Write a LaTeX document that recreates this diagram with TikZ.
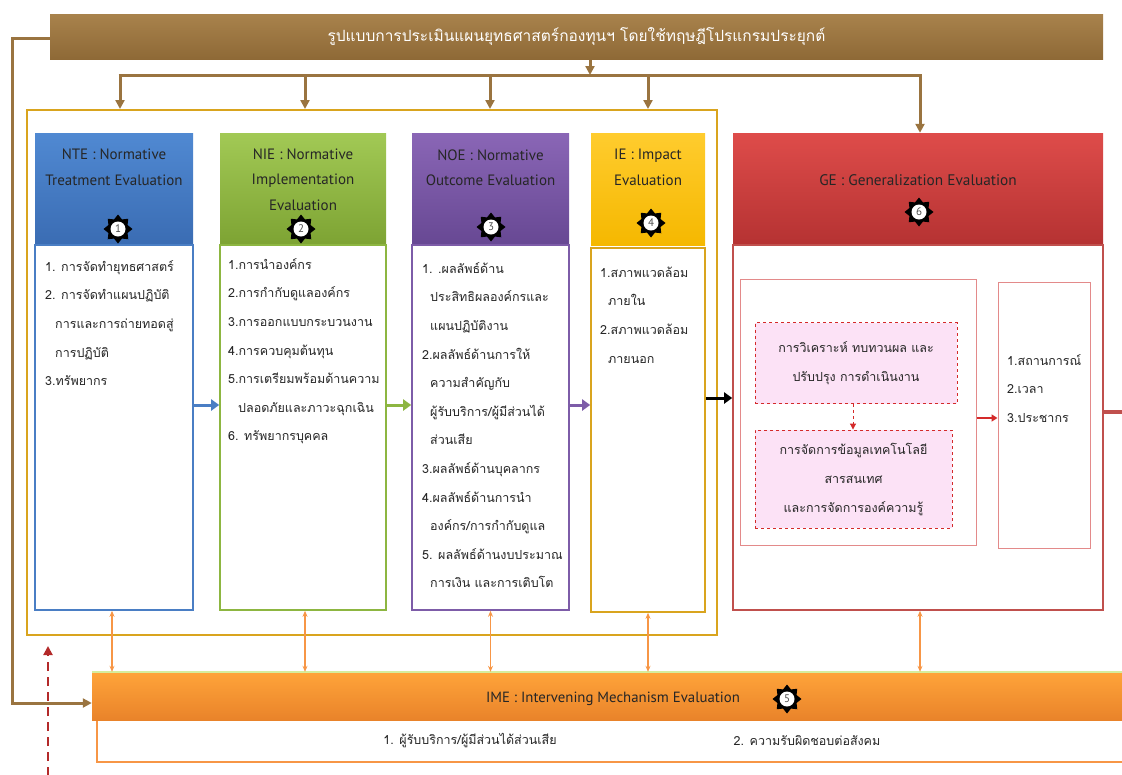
\documentclass[tikz,border=0pt]{standalone}
\usepackage{fontspec}
\setmainfont{PT Sans}
\newfontfamily\thai[Script=Thai]{Loma}
\usetikzlibrary{shapes.geometric,arrows.meta}
\definecolor{brn}{HTML}{9A7440}
\definecolor{brnT}{HTML}{A8824C}
\definecolor{brnB}{HTML}{8E6936}
\definecolor{gold}{HTML}{D9A41E}
\definecolor{nteT}{HTML}{5089D2}
\definecolor{nteB}{HTML}{3A6CB3}
\definecolor{nteD}{HTML}{4A7EC4}
\definecolor{nieT}{HTML}{A2C955}
\definecolor{nieB}{HTML}{7DA333}
\definecolor{nieD}{HTML}{8DB641}
\definecolor{noeT}{HTML}{8A66B6}
\definecolor{noeB}{HTML}{674893}
\definecolor{noeD}{HTML}{7D5CA8}
\definecolor{ieT}{HTML}{FFCC2E}
\definecolor{ieB}{HTML}{F5B800}
\definecolor{geT}{HTML}{DE4C4A}
\definecolor{geB}{HTML}{B53232}
\definecolor{geD}{HTML}{C0504D}
\definecolor{geL}{HTML}{E38A8A}
\definecolor{pinkF}{HTML}{FCE2F6}
\definecolor{pinkD}{HTML}{D42A2A}
\definecolor{orng}{HTML}{F79646}
\definecolor{imeT}{HTML}{FFA43A}
\definecolor{imeB}{HTML}{E9832A}
\definecolor{txt}{HTML}{262626}
\definecolor{rdash}{HTML}{B32A2A}
\tikzset{
  hdrbox/.style={inner sep=0pt, draw=none},
  bodybox/.style={inner sep=0pt, fill=white, line width=1.6pt},
  hdrtext/.style={font=\fontsize{15}{25.5}\selectfont, text=txt, align=center, inner sep=0pt},
  listtext/.style={font=\thai\fontsize{12.5}{28.6}\selectfont, text=txt, align=left, anchor=north west, inner sep=0pt},
  badgestar/.style={star, star points=8, star point ratio=1.4, fill=black, draw=none, minimum size=29pt, inner sep=0pt},
  badgenum/.style={circle, fill=white, draw=none, minimum size=15pt, inner sep=0pt, font=\fontsize{11}{11}\selectfont, text=black!70},
  brnline/.style={draw=brn, line width=3pt},
  brnarrow/.style={draw=brn, line width=3pt, -{Triangle[length=9pt,width=9pt]}},
  orarrow/.style={draw=orng, line width=1.3pt, {Stealth[length=6pt,width=5pt]}-{Stealth[length=6pt,width=5pt]}},
  colarrow/.style={line width=3pt, -{Triangle[length=8pt,width=11pt]}},
}
\begin{document}
\begin{tikzpicture}[x=1pt,y=-1pt]
\useasboundingbox (0,0) rectangle (1122,774);

% outer golden frame
\node[inner sep=0pt, draw=gold, line width=2pt, minimum width=690pt, minimum height=525pt] (frame) at (372,372.5) {};

% title bar
\node[hdrbox, top color=brnT, bottom color=brnB, minimum width=1053pt, minimum height=45pt,
      font=\thai\fontsize{15.5}{17}\selectfont, text=white] (title) at (576.5,37)
  {รูปแบบการประเมินแผนยุทธศาสตร์กองทุนฯ โดยใช้ทฤษฎีโปรแกรมประยุกต์};

% column headers
\node[hdrbox, top color=nteT, bottom color=nteB, minimum width=158pt, minimum height=112pt] (nteh) at (114,189) {};
\node[hdrbox, top color=nieT, bottom color=nieB, minimum width=166pt, minimum height=112pt] (nieh) at (303,189) {};
\node[hdrbox, top color=noeT, bottom color=noeB, minimum width=157pt, minimum height=112pt] (noeh) at (490.5,189) {};
\node[hdrbox, top color=ieT, bottom color=ieB, minimum width=114pt, minimum height=112pt] (ieh) at (648,189) {};
\node[hdrbox, top color=geT, bottom color=geB, minimum width=370pt, minimum height=112pt] (geh) at (918,189) {};

\node[hdrtext] (ntet) at (114,167.5) {NTE : Normative\\Treatment Evaluation};
\node[hdrtext] (niet) at (303,179.5) {NIE : Normative\\Implementation\\Evaluation};
\node[hdrtext] (noet) at (490.5,167.5) {NOE : Normative\\Outcome Evaluation};
\node[hdrtext] (iet) at (648,167.5) {IE : Impact\\Evaluation};
\node[hdrtext, font=\fontsize{15.3}{17}\selectfont] (get) at (918,180) {GE : Generalization Evaluation};

% column bodies
\node[bodybox, draw=nteD, minimum width=158pt, minimum height=365pt] (nteb) at (114,427.5) {};
\node[bodybox, draw=nieD, minimum width=166pt, minimum height=365pt] (nieb) at (303,427.5) {};
\node[bodybox, draw=noeD, minimum width=157pt, minimum height=365pt] (noeb) at (490.5,427.5) {};
\node[bodybox, draw=gold, minimum width=114pt, minimum height=364pt] (ieb) at (648,430) {};
\node[bodybox, draw=geD, minimum width=370pt, minimum height=365pt] (geb) at (918,427.5) {};

% column texts
\node[listtext] (ntel) at (45,251) {\strut 1. การจัดทำยุทธศาสตร์\\2. การจัดทำแผนปฏิบัติ\\\hspace*{10pt}การและการถ่ายทอดสู่\\\hspace*{10pt}การปฏิบัติ\\3.ทรัพยากร};
\node[listtext] (niel) at (228,249) {\strut 1.การนำองค์กร\\2.การกำกับดูแลองค์กร\\3.การออกแบบกระบวนงาน\\4.การควบคุมต้นทุน\\5.การเตรียมพร้อมด้านความ\\\hspace*{10pt}ปลอดภัยและภาวะฉุกเฉิน\\6. ทรัพยากรบุคคล};
\node[listtext] (noel) at (422,253) {\strut 1. .ผลลัพธ์ด้าน\\\hspace*{8pt}ประสิทธิผลองค์กรและ\\\hspace*{8pt}แผนปฏิบัติงาน\\2.ผลลัพธ์ด้านการให้\\\hspace*{8pt}ความสำคัญกับ\\\hspace*{8pt}ผู้รับบริการ/ผู้มีส่วนได้\\\hspace*{8pt}ส่วนเสีย\\3.ผลลัพธ์ด้านบุคลากร\\4.ผลลัพธ์ด้านการนำ\\\hspace*{8pt}องค์กร/การกำกับดูแล\\5. ผลลัพธ์ด้านงบประมาณ\\\hspace*{8pt}การเงิน และการเติบโต};
\node[listtext] (iel) at (600,257) {\strut 1.สภาพแวดล้อม\\\hspace*{8pt}ภายใน\\2.สภาพแวดล้อม\\\hspace*{8pt}ภายนอก};

% GE inner boxes
\node[inner sep=0pt, draw=geL, line width=1pt, fill=white, minimum width=236pt, minimum height=266pt] (gebox) at (858,412) {};
\node[inner sep=0pt, draw=pinkD, dashed, line width=0.9pt, fill=pinkF, minimum width=202pt, minimum height=81pt,
      align=center, font=\thai\fontsize{12.5}{29}\selectfont, text=txt] (pinka) at (856,363)
  {การวิเคราะห์ ทบทวนผล และ\\ปรับปรุง การดำเนินงาน};
\node[inner sep=0pt, draw=pinkD, dashed, line width=0.9pt, fill=pinkF, minimum width=197pt, minimum height=98pt,
      align=center, font=\thai\fontsize{12.5}{29}\selectfont, text=txt] (pinkb) at (853.5,479)
  {การจัดการข้อมูลเทคโนโลยี\\สารสนเทศ\\และการจัดการองค์ความรู้};
\node[inner sep=0pt, draw=geL, line width=1pt, fill=white, minimum width=92pt, minimum height=266pt] (gelist) at (1044,415) {};
\node[listtext] (gelistt) at (1007,345) {\strut 1.สถานการณ์\\2.เวลา\\3.ประชากร};

% IME bar
\node[inner sep=0pt, draw=orng, line width=1.5pt, fill=white, minimum width=1040pt, minimum height=42pt] (imesub) at (617,741) {};
\node[hdrbox, top color=imeT, bottom color=imeB, minimum width=1040pt, minimum height=48pt] (ime) at (612,696) {};
\draw[draw=yellow!60!green!40, line width=2.5pt] (ime.north west) -- (ime.north east);
\node[hdrtext, font=\fontsize{14.8}{16}\selectfont] (imet) at (613,699) {IME : Intervening Mechanism Evaluation};
\node[font=\thai\fontsize{12.5}{16}\selectfont, text=txt, inner sep=0pt] (imea) at (470,741) {1. ผู้รับบริการ/ผู้มีส่วนได้ส่วนเสีย};
\node[font=\thai\fontsize{12.5}{16}\selectfont, text=txt, inner sep=0pt] (imeb2) at (807,741) {2. ความรับผิดชอบต่อสังคม};

% badges
\node[badgestar] (s1) at (118,229) {}; \node[badgenum] (n1) at (s1) {1};
\node[badgestar] (s2) at (301,229) {}; \node[badgenum] (n2) at (s2) {2};
\node[badgestar] (s3) at (491,227) {}; \node[badgenum] (n3) at (s3) {3};
\node[badgestar] (s4) at (651,223) {}; \node[badgenum] (n4) at (s4) {4};
\node[badgestar] (s6) at (919,212) {}; \node[badgenum] (n6) at (s6) {6};
\node[badgestar] (s5) at (787,699) {}; \node[badgenum] (n5) at (s5) {5};

% distribution arrows from title
\coordinate (hub) at (590,75);
\coordinate (hl) at (120,75);
\coordinate (hr) at (920,75);
\coordinate (h2) at (305,75);
\coordinate (h3) at (490,75);
\coordinate (h4) at (648,75);
\draw[brnline] ([xshift=-1.5pt]hl) -- ([xshift=1.5pt]hr);
\draw[brnarrow] (title.south -| hub) -- (hub);
\draw[brnarrow] (hl) -- (hl |- frame.north);
\draw[brnarrow] (h2) -- (h2 |- frame.north);
\draw[brnarrow] (h3) -- (h3 |- frame.north);
\draw[brnarrow] (h4) -- (h4 |- frame.north);
\draw[brnarrow] (hr) -- (hr |- geh.north);

% left feedback line
\coordinate (fb1) at (12,38);
\coordinate (fb2) at (12,703);
\draw[brnarrow] (title.west |- fb1) -- (fb1) -- (fb2) -- (ime.west |- fb2);

% arrows between columns
\draw[colarrow, draw=nteD] (nteb.east |- 0,405) -- (nieb.west |- 0,405);
\draw[colarrow, draw=nieD] (nieb.east |- 0,405) -- (noeb.west |- 0,405);
\draw[colarrow, draw=noeD] (noeb.east |- 0,405) -- (ieb.west |- 0,405);
\draw[colarrow, draw=black] (ieb.east |- 0,398) -- (geb.west |- 0,398);

% GE internal arrows
\draw[draw=pinkD, dashed, line width=1pt, -{Triangle[length=6pt,width=6pt]}] (pinka.south -| 853,0) -- (pinkb.north -| 853,0);
\draw[draw=pinkD, line width=2pt, -{Triangle[length=6pt,width=7pt]}] (gebox.east |- 0,418) -- (gelist.west |- 0,418);
\coordinate (geout) at (1122,412);
\draw[draw=geD, line width=4pt] (geb.east |- geout) -- (geout);

% orange double arrows to IME
\draw[orarrow] (nteb.south -| 112,0) -- (ime.north -| 112,0);
\draw[orarrow] (nieb.south -| 305,0) -- (ime.north -| 305,0);
\draw[orarrow] (noeb.south) -- (ime.north -| noeb.south);
\draw[orarrow] (ieb.south) -- (ime.north -| ieb.south);
\draw[orarrow] (geb.south -| 920,0) -- (ime.north -| 920,0);

% red dashed arrow
\coordinate (rdA) at (48,776);
\coordinate (rdB) at (48,646);
\draw[draw=rdash, line width=2pt, dash pattern=on 9pt off 6pt, -{Triangle[length=9pt,width=9pt]}] (rdA) -- (rdB);
\end{tikzpicture}
\end{document}
